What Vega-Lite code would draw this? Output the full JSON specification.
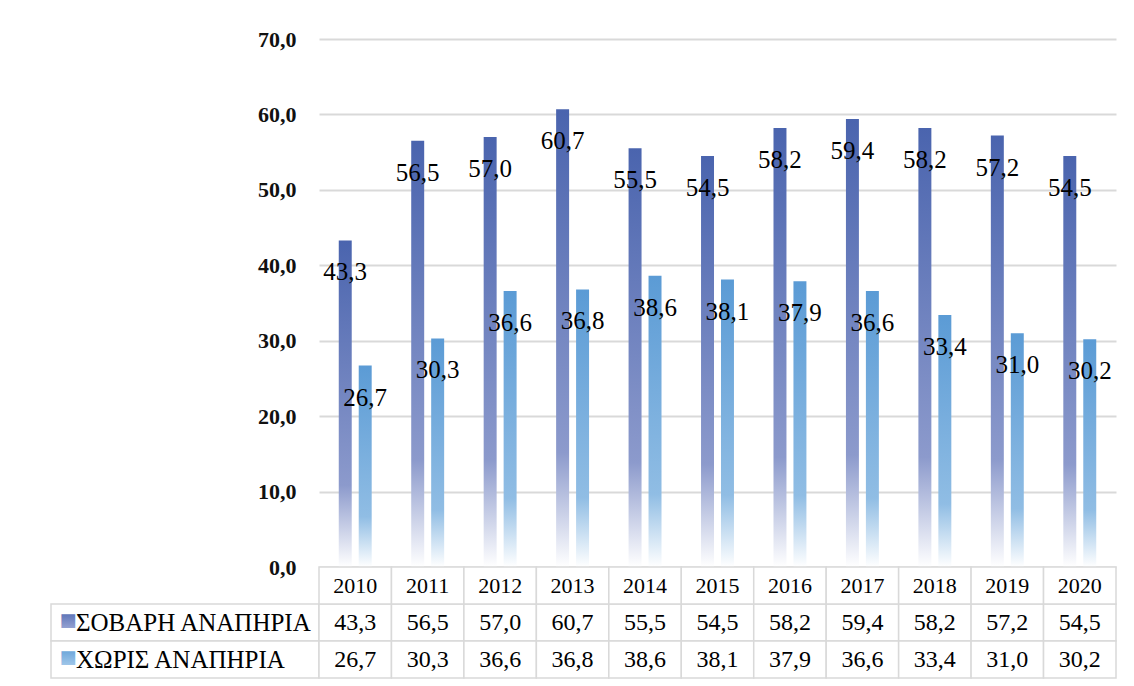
{
  "$schema": "https://vega.github.io/schema/vega-lite/v6.json",
  "padding": {"left": 50, "top": 28, "right": 0, "bottom": 0},
  "background": "white",
  "config": {
    "view": {"stroke": null},
    "font": "Liberation Serif",
    "locale": {"number": {"decimal": ",", "thousands": ".", "grouping": [3], "currency": ["", " €"]}}
  },
  "datasets": {
    "d": [
      {"year": 2010, "series": "ΣΟΒΑΡΗ ΑΝΑΠΗΡΙΑ", "value": 43.3},
      {"year": 2011, "series": "ΣΟΒΑΡΗ ΑΝΑΠΗΡΙΑ", "value": 56.5},
      {"year": 2012, "series": "ΣΟΒΑΡΗ ΑΝΑΠΗΡΙΑ", "value": 57.0},
      {"year": 2013, "series": "ΣΟΒΑΡΗ ΑΝΑΠΗΡΙΑ", "value": 60.7},
      {"year": 2014, "series": "ΣΟΒΑΡΗ ΑΝΑΠΗΡΙΑ", "value": 55.5},
      {"year": 2015, "series": "ΣΟΒΑΡΗ ΑΝΑΠΗΡΙΑ", "value": 54.5},
      {"year": 2016, "series": "ΣΟΒΑΡΗ ΑΝΑΠΗΡΙΑ", "value": 58.2},
      {"year": 2017, "series": "ΣΟΒΑΡΗ ΑΝΑΠΗΡΙΑ", "value": 59.4},
      {"year": 2018, "series": "ΣΟΒΑΡΗ ΑΝΑΠΗΡΙΑ", "value": 58.2},
      {"year": 2019, "series": "ΣΟΒΑΡΗ ΑΝΑΠΗΡΙΑ", "value": 57.2},
      {"year": 2020, "series": "ΣΟΒΑΡΗ ΑΝΑΠΗΡΙΑ", "value": 54.5},
      {"year": 2010, "series": "ΧΩΡΙΣ ΑΝΑΠΗΡΙΑ", "value": 26.7},
      {"year": 2011, "series": "ΧΩΡΙΣ ΑΝΑΠΗΡΙΑ", "value": 30.3},
      {"year": 2012, "series": "ΧΩΡΙΣ ΑΝΑΠΗΡΙΑ", "value": 36.6},
      {"year": 2013, "series": "ΧΩΡΙΣ ΑΝΑΠΗΡΙΑ", "value": 36.8},
      {"year": 2014, "series": "ΧΩΡΙΣ ΑΝΑΠΗΡΙΑ", "value": 38.6},
      {"year": 2015, "series": "ΧΩΡΙΣ ΑΝΑΠΗΡΙΑ", "value": 38.1},
      {"year": 2016, "series": "ΧΩΡΙΣ ΑΝΑΠΗΡΙΑ", "value": 37.9},
      {"year": 2017, "series": "ΧΩΡΙΣ ΑΝΑΠΗΡΙΑ", "value": 36.6},
      {"year": 2018, "series": "ΧΩΡΙΣ ΑΝΑΠΗΡΙΑ", "value": 33.4},
      {"year": 2019, "series": "ΧΩΡΙΣ ΑΝΑΠΗΡΙΑ", "value": 31.0},
      {"year": 2020, "series": "ΧΩΡΙΣ ΑΝΑΠΗΡΙΑ", "value": 30.2}
    ]
  },
  "columns": 2,
  "spacing": 0,
  "bounds": "flush",
  "resolve": {"scale": {"x": "independent", "y": "independent", "xOffset": "independent"}},
  "concat": [
    {
      "width": 268,
      "height": 528,
      "data": {"values": [{"t": ""}]},
      "mark": {"type": "text", "opacity": 0},
      "encoding": {"text": {"field": "t"}}
    },
    {
      "width": 797,
      "height": 528,
      "data": {"name": "d"},
      "encoding": {
        "x": {"field": "year", "type": "nominal", "scale": {"paddingInner": 0, "paddingOuter": 0}, "axis": null},
        "xOffset": {"field": "series", "type": "nominal", "scale": {"domain": ["ΣΟΒΑΡΗ ΑΝΑΠΗΡΙΑ", "ΧΩΡΙΣ ΑΝΑΠΗΡΙΑ"], "paddingInner": 0.35, "paddingOuter": 0.99}},
        "y": {
          "field": "value", "type": "quantitative",
          "scale": {"domain": [0, 70]},
          "axis": {
            "values": [0, 10, 20, 30, 40, 50, 60, 70],
            "format": ".1f", "title": null, "domain": false, "ticks": false,
            "labelPadding": 23, "labelFontSize": 22, "labelFontWeight": "bold", "labelColor": "#111111",
            "labelFont": "Liberation Serif",
            "gridColor": "#d9d9d9", "gridWidth": 2
          }
        }
      },
      "layer": [
        {
          "transform": [{"filter": "datum.series === 'ΣΟΒΑΡΗ ΑΝΑΠΗΡΙΑ'"}],
          "mark": {"type": "bar", "fill": {"gradient": "linear", "x1": 0, "y1": 0, "x2": 0, "y2": 1, "stops": [{"offset": 0, "color": "#4a64ae"}, {"offset": 0.75, "color": "#8c9acc"}, {"offset": 1, "color": "#ffffff"}]}}
        },
        {
          "transform": [{"filter": "datum.series === 'ΧΩΡΙΣ ΑΝΑΠΗΡΙΑ'"}],
          "mark": {"type": "bar", "fill": {"gradient": "linear", "x1": 0, "y1": 0, "x2": 0, "y2": 1, "stops": [{"offset": 0, "color": "#5b9bd5"}, {"offset": 0.75, "color": "#90bde4"}, {"offset": 1, "color": "#ffffff"}]}}
        },
        {
          "mark": {"type": "text", "dy": 32, "fontSize": 25, "color": "#000000", "font": "Liberation Serif"},
          "encoding": {"text": {"field": "value", "type": "quantitative", "format": ".1f"}}
        }
      ]
    },
    {
      "width": 268,
      "height": 111,
      "data": {"name": "d"},
      "transform": [{"filter": "datum.year === 2010"}],
      "encoding": {
        "y": {"field": "series", "type": "nominal", "scale": {"domain": ["_", "ΣΟΒΑΡΗ ΑΝΑΠΗΡΙΑ", "ΧΩΡΙΣ ΑΝΑΠΗΡΙΑ"], "paddingInner": 0, "paddingOuter": 0}, "axis": null}
      },
      "layer": [
        {"mark": {"type": "rect", "fill": "#ffffff", "stroke": "#d9d9d9", "strokeWidth": 1.5}},
        {
          "mark": {"type": "text", "align": "left", "dx": -109, "fontSize": 25, "color": "#000000", "font": "Liberation Serif"},
          "encoding": {"text": {"field": "series"}}
        },
        {
          "transform": [{"filter": "datum.series === 'ΣΟΒΑΡΗ ΑΝΑΠΗΡΙΑ'"}],
          "mark": {"type": "text", "text": "■", "dx": -117, "dy": -2, "fontSize": 18, "font": "DejaVu Sans", "fill": {"gradient": "linear", "x1": 0, "y1": 0, "x2": 0, "y2": 1, "stops": [{"offset": 0, "color": "#4a64ae"}, {"offset": 1, "color": "#9aa6d4"}]}}
        },
        {
          "transform": [{"filter": "datum.series === 'ΧΩΡΙΣ ΑΝΑΠΗΡΙΑ'"}],
          "mark": {"type": "text", "text": "■", "dx": -117, "dy": -2, "fontSize": 18, "font": "DejaVu Sans", "fill": {"gradient": "linear", "x1": 0, "y1": 0, "x2": 0, "y2": 1, "stops": [{"offset": 0, "color": "#5b9bd5"}, {"offset": 1, "color": "#a4c9ea"}]}}
        }
      ]
    },
    {
      "width": 797,
      "height": 111,
      "data": {"name": "d"},
      "layer": [
        {
          "mark": {"type": "rect", "fill": "#ffffff", "stroke": "#d9d9d9", "strokeWidth": 1.5},
          "encoding": {
            "x": {"field": "year", "type": "nominal", "scale": {"paddingInner": 0, "paddingOuter": 0}, "axis": null},
            "y": {"field": "series", "type": "nominal", "scale": {"domain": ["_", "ΣΟΒΑΡΗ ΑΝΑΠΗΡΙΑ", "ΧΩΡΙΣ ΑΝΑΠΗΡΙΑ"], "paddingInner": 0, "paddingOuter": 0}, "axis": null}
          }
        },
        {
          "transform": [{"filter": "datum.series === 'ΣΟΒΑΡΗ ΑΝΑΠΗΡΙΑ'"}],
          "mark": {"type": "rect", "fill": "#ffffff", "stroke": "#d9d9d9", "strokeWidth": 1.5},
          "encoding": {
            "x": {"field": "year", "type": "nominal"},
            "y": {"datum": "_", "type": "nominal"}
          }
        },
        {
          "mark": {"type": "text", "fontSize": 24, "color": "#000000", "font": "Liberation Serif"},
          "encoding": {
            "x": {"field": "year", "type": "nominal"},
            "y": {"field": "series", "type": "nominal"},
            "text": {"field": "value", "type": "quantitative", "format": ".1f"}
          }
        },
        {
          "transform": [{"filter": "datum.series === 'ΣΟΒΑΡΗ ΑΝΑΠΗΡΙΑ'"}],
          "mark": {"type": "text", "fontSize": 22, "color": "#000000", "font": "Liberation Serif"},
          "encoding": {
            "x": {"field": "year", "type": "nominal"},
            "y": {"datum": "_", "type": "nominal"},
            "text": {"field": "year", "type": "nominal"}
          }
        }
      ]
    }
  ]
}
